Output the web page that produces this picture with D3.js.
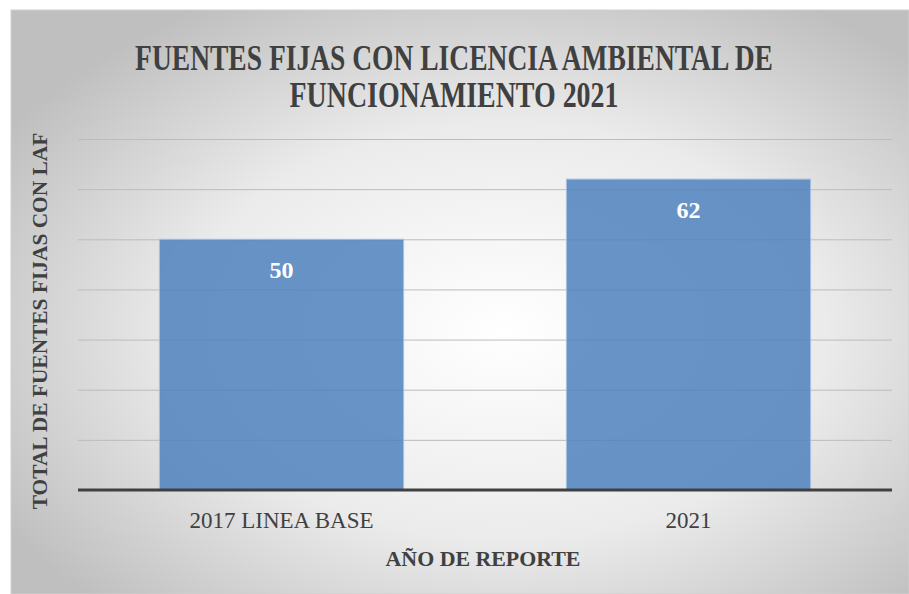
<!DOCTYPE html>
<html>
<head>
<meta charset="utf-8">
<script src="https://cdn.jsdelivr.net/npm/d3@7"></script>
<style>
  body { margin: 0; background: #fff; }
  text { font-family: "Liberation Serif", "DejaVu Serif", serif; }
</style>
</head>
<body>
<script>
// data
var categories = ["2017 LINEA BASE", "2021"];
var values = [50, 62];
var yTicks = [0, 10, 20, 30, 40, 50, 60, 70];
var titleLines = ["FUENTES FIJAS CON LICENCIA AMBIENTAL DE", "FUNCIONAMIENTO 2021"];
var titleWidths = [638, 329];
var yTitle = "TOTAL DE FUENTES FIJAS CON LAF";
var xTitle = "AÑO DE REPORTE";

var svg = d3.select("body").append("svg")
    .attr("width", 909)
    .attr("height", 594);

// background gradient
var defs = svg.append("defs");
var grad = defs.append("radialGradient")
    .attr("id", "bg")
    .attr("cx", "55%").attr("cy", "55%").attr("r", "65%");
grad.append("stop").attr("offset", "0%").attr("stop-color", "#ffffff");
grad.append("stop").attr("offset", "55%").attr("stop-color", "#ebebeb");
grad.append("stop").attr("offset", "100%").attr("stop-color", "#bfbfbf");

svg.append("rect")
    .attr("x", 11).attr("y", 10)
    .attr("width", 898).attr("height", 584)
    .attr("fill", "url(#bg)")
    .attr("stroke", "#cfcfcf")
    .attr("stroke-width", 1);

var margin = {left: 78, right: 17, top: 139, bottom: 104};
var width = 909 - margin.left - margin.right;
var height = 594 - margin.top - margin.bottom;

var x = d3.scaleBand()
    .domain(categories)
    .range([0, width])
    .paddingInner(0.4)
    .paddingOuter(0.2);

var y = d3.scaleLinear()
    .domain([0, 70])
    .range([height, 0]);

var g = svg.append("g")
    .attr("transform", "translate(" + margin.left + "," + margin.top + ")");

// gridlines
g.selectAll(".grid")
    .data(yTicks.slice(1))
    .enter().append("line")
    .attr("x1", 0).attr("x2", width)
    .attr("y1", function(d) { return y(d) + 0.5; })
    .attr("y2", function(d) { return y(d) + 0.5; })
    .attr("stroke", "#bcbcbc")
    .attr("stroke-width", 1);

// bars
g.selectAll(".bar")
    .data(values)
    .enter().append("rect")
    .attr("x", function(d, i) { return x(categories[i]); })
    .attr("y", function(d) { return y(d); })
    .attr("width", x.bandwidth())
    .attr("height", function(d) { return y(0) - y(d); })
    .attr("fill", "#4f81bd")
    .attr("fill-opacity", 0.85)
    .attr("stroke", "#a3c0e3")
    .attr("stroke-width", 1);

// value labels
g.selectAll(".lbl")
    .data(values)
    .enter().append("text")
    .attr("x", function(d, i) { return x(categories[i]) + x.bandwidth() / 2; })
    .attr("y", function(d) { return y(d) + 39; })
    .attr("text-anchor", "middle")
    .attr("fill", "#ffffff")
    .style("font-size", "24px")
    .style("font-weight", "bold")
    .text(function(d) { return d; });

// x axis
var xAxis = g.append("g")
    .attr("transform", "translate(0," + height + ")")
    .call(d3.axisBottom(x).tickSize(0).tickPadding(22));
xAxis.select(".domain").remove();
xAxis.append("line")
    .attr("x1", 0).attr("x2", width)
    .attr("y1", 0).attr("y2", 0)
    .attr("stroke", "#404040")
    .attr("stroke-width", 3);
xAxis.selectAll(".tick text")
    .attr("fill", "#404040")
    .style("font-family", "'Liberation Serif', serif")
    .style("font-size", "23px");

// title (condensed with a horizontal scale)
titleLines.forEach(function(line, i) {
    var t = svg.append("text")
        .attr("text-anchor", "middle")
        .attr("fill", "#404040")
        .style("font-size", "36px")
        .style("font-weight", "bold")
        .text(line);
    var sx = titleWidths[i] / t.node().getComputedTextLength();
    t.attr("transform", "translate(454," + (70 + i * 37) + ") scale(" + sx + ",1)");
});

// y axis title
var yt = svg.append("text")
    .attr("text-anchor", "middle")
    .attr("fill", "#404040")
    .style("font-size", "21px")
    .style("font-weight", "bold")
    .text(yTitle);
var ys = 377 / yt.node().getComputedTextLength();
yt.attr("transform", "translate(47,321) rotate(-90) scale(" + ys + ",1)");

// x axis title
var xt = svg.append("text")
    .attr("text-anchor", "middle")
    .attr("fill", "#404040")
    .style("font-size", "21px")
    .style("font-weight", "bold")
    .text(xTitle);
var xs = 195 / xt.node().getComputedTextLength();
xt.attr("transform", "translate(483,566) scale(" + xs + ",1)");
</script>
</body>
</html>
